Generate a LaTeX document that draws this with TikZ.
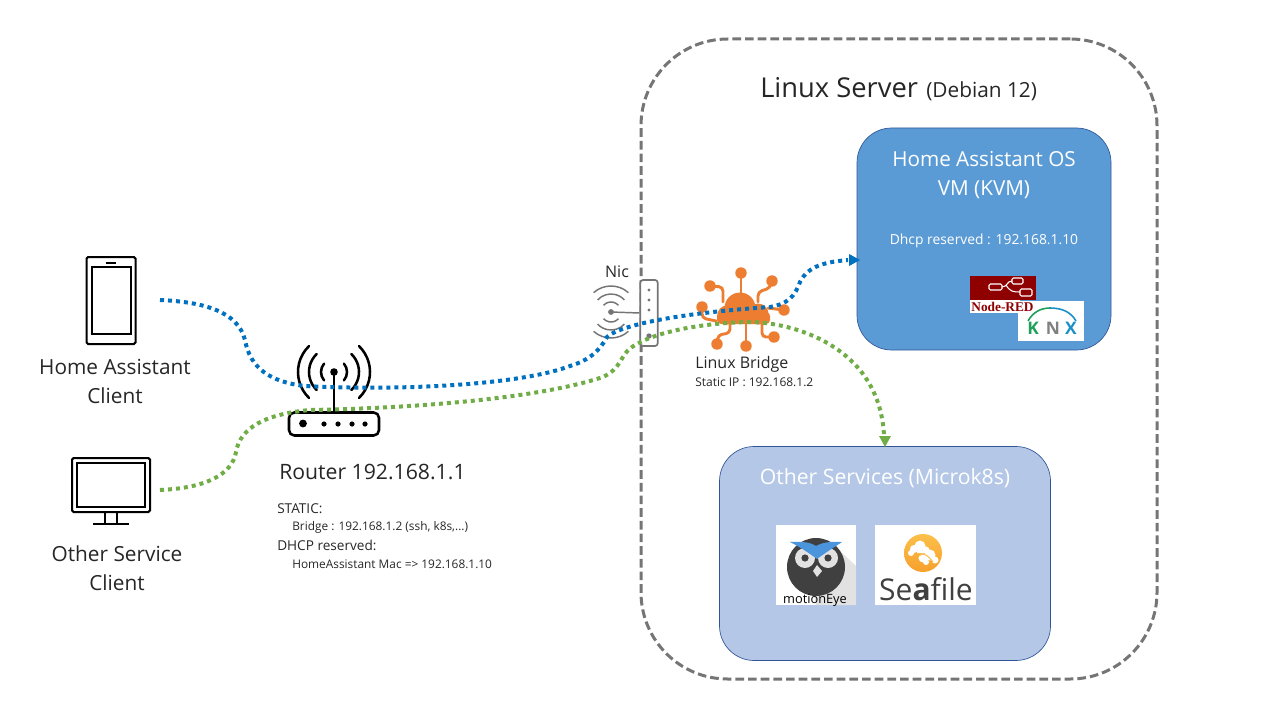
\documentclass[tikz,border=0pt]{standalone}
\usepackage{fontspec}
\setmainfont{Open Sans}
\newfontfamily\nrfont{Liberation Serif}
\usetikzlibrary{arrows.meta,calc}
\definecolor{hablue}{HTML}{5B9BD5}
\definecolor{svcblue}{HTML}{B4C7E7}
\definecolor{edgeblue}{HTML}{2F5597}
\definecolor{dotblue}{HTML}{0070C0}
\definecolor{dotgreen}{HTML}{70AD47}
\definecolor{cloud}{HTML}{ED7D31}
\definecolor{greyline}{HTML}{757575}
\definecolor{txt}{HTML}{262626}
\definecolor{nred}{HTML}{8F0000}
\definecolor{owl}{HTML}{404040}
\definecolor{owlpale}{HTML}{E2E2E2}
\definecolor{wing}{HTML}{4A95DC}
\definecolor{knxgreen}{HTML}{1FA05B}
\definecolor{knxblue}{HTML}{1C8FC7}
\definecolor{seatop}{HTML}{FBC04A}
\definecolor{seabot}{HTML}{F7A02C}
\tikzset{
 lab/.style={font=\fontsize{#1}{#1}\selectfont,text=txt,inner sep=0pt,align=center},
 labl/.style={font=\fontsize{#1}{#1}\selectfont,text=txt,inner sep=0pt,align=left,anchor=west},
 wlab/.style={font=\fontsize{#1}{#1}\selectfont,text=white,inner sep=0pt,align=center},
 dotted line/.style={line width=3pt,dash pattern=on 3pt off 3pt},
 icon/.style={line width=1.5pt,draw=black,fill=white,rounded corners=1.2pt},
 rays/.style={line width=1.9pt,draw=black,line cap=round},
 nicline/.style={line width=1.1pt,draw=greyline},
 orangearm/.style={line width=2.2pt,draw=cloud,line cap=round,rounded corners=3pt},
 odot/.style={circle,fill=cloud,inner sep=0pt,minimum size=8.6pt},
 whitebox/.style={fill=white,draw=none,inner sep=0pt},
 flowbox/.style={draw=white,line width=0.8pt,rounded corners=1pt},
 flowline/.style={draw=white,line width=0.8pt},
 knxletter/.style={font=\bfseries\fontsize{13}{13}\selectfont,inner sep=0pt},
}
\begin{document}
\begin{tikzpicture}[x=0.75pt,y=-0.75pt]
\useasboundingbox (0,0) rectangle (1280,720);
% server
\node[draw=greyline,line width=2.25pt,dash pattern=on 6.5pt off 3pt,rounded corners=65pt,minimum width=387pt,minimum height=480pt,inner sep=0pt] (server) at (899,359) {};
\node[lab=20.5,anchor=west] (servert) at (760,88) {Linux Server};
\node[lab=15.6,anchor=west] (serverd) at (926,91.5) {(Debian 12)};
% HA
\node[draw=edgeblue,line width=0.5pt,fill=hablue,rounded corners=26pt,minimum width=190.5pt,minimum height=166.5pt,inner sep=0pt] (ha) at (984,239) {};
\node[wlab=15.5,font=\fontsize{15.5}{21.75}\selectfont] (hat) at (984,175) {Home Assistant OS\\VM (KVM)};
\node[wlab=10.4] (hadhcp) at (984,241) {Dhcp reserved : 192.168.1.10};
% KNX
\node[whitebox,minimum width=49.5pt,minimum height=30pt] (knx) at (1051,321) {};
\draw[knxgreen,line width=1.2pt] (1028,321) .. controls (1033,312) and (1041,308) .. (1050,308);
\draw[knxblue,line width=1.2pt] (1050,308) .. controls (1062,308) and (1071,312) .. (1076,321);
\node[knxletter,text=knxgreen] (knxk) at (1033,328) {K};
\node[knxletter,text=gray] (knxn) at (1053,328) {N};
\node[knxletter,text=knxblue] (knxx) at (1071,328) {X};
% Node-RED logo
\fill[white] (970,299) rectangle (1020,313);
\fill[nred] (970,276) rectangle (1036,300);
\draw[flowbox] (989,284) rectangle (1002,290);
\draw[flowbox] (1012,278) rectangle (1023,284);
\draw[flowbox] (1020,289) rectangle (1032,296);
\draw[flowline] (1002,287) .. controls (1007,287) and (1007,281) .. (1012,281);
\draw[flowline] (1006,285) .. controls (1010,292) and (1014,292) .. (1020,292);
\node[font=\nrfont\bfseries\fontsize{10}{10}\selectfont,text=nred,inner sep=0pt] (nrt) at (1002.5,306.5) {Node-RED};
% other services
\node[draw=edgeblue,line width=0.5pt,fill=svcblue,rounded corners=26pt,minimum width=248.25pt,minimum height=160.5pt,inner sep=0pt] (svc) at (885,553.5) {};
\node[wlab=15.9,anchor=center] (svct) at (885,478) {Other Services (Microk8s)};
% motionEye
\node[whitebox,minimum width=60pt,minimum height=60pt] (me) at (816,565) {};
\fill[owlpale] (805,552) -- (828,540) -- (856,566) -- (856,605) -- (816,605) -- cycle;
\fill[owl] (816,567) circle[radius=29];
\fill[owlpale] (805,558) circle[radius=10] (828,558) circle[radius=10];
\fill[owl] (805,558) circle[radius=3.6] (828,558) circle[radius=3.6];
\fill[wing] (790,542) .. controls (803,541) and (812,543) .. (816,546) .. controls (821,543) and (830,541) .. (842,542) .. controls (833,548) and (825,553) .. (817,559) .. controls (809,553) and (800,547) .. (790,542) -- cycle;
\fill[owlpale] (817,565) -- (822,571) -- (817,577) -- (813,571) -- cycle;
\node[font=\fontsize{9.6}{9.6}\selectfont,text=black,inner sep=0pt] (met) at (815,600) {motionEye};
% Seafile
\node[whitebox,minimum width=75.75pt,minimum height=60pt] (sf) at (925.5,565) {};
\shade[top color=seatop,bottom color=seabot] (923,553) circle[radius=19];
\fill[white] (914,549) circle[radius=4] (920,546) circle[radius=5.5] (926,550) circle[radius=3.5] (911,553) circle[radius=3] (917,553) rectangle (925,551);
\fill[white] (923,558) circle[radius=4.5] (930,555) circle[radius=5.5] (935,560) circle[radius=3.5] (926,562) circle[radius=3];
\draw[seatop,line width=0.8pt] (919,556) .. controls (924,551) and (929,557) .. (933,562);
\node[font=\fontsize{22.5}{22.5}\selectfont,text=owl,inner sep=0pt] (sft) at (926,589) {Se\textbf{a}file};
% phone
\node[icon,minimum width=36.75pt,minimum height=65.25pt,inner sep=0pt] (phone) at (111,300.5) {};
\node[draw=black,line width=1.5pt,fill=white,minimum width=29.25pt,minimum height=50pt,inner sep=0pt] (phscr) at (111,300.5) {};
\draw[line width=1.5pt] (106,263) -- (116,263);
\node[lab=15.6,font=\fontsize{15.6}{21.75}\selectfont] (phonet) at (115,381) {Home Assistant\\Client};
% monitor
\node[icon,minimum width=58.5pt,minimum height=40.5pt,inner sep=0pt] (mon) at (111,485) {};
\node[draw=black,line width=1.5pt,fill=white,minimum width=51pt,minimum height=33pt,inner sep=0pt] (monscr) at (111,485) {};
\draw[line width=1.5pt] (105,512) -- (105,523) (117,512) -- (117,523) (93,524) -- (129,524);
\node[lab=15.6,font=\fontsize{15.6}{21.75}\selectfont] (mont) at (117,568) {Other Service\\Client};
% router
\node[draw=black,line width=1.9pt,fill=white,rounded corners=4pt,minimum width=67.5pt,minimum height=17.25pt,inner sep=0pt] (router) at (334,424) {};
\draw[line width=1.9pt] (334,372) -- (334,412);
\fill (334,372) circle[radius=3.8];
\fill (303,423.5) circle[radius=3.9];
\foreach \px in {324,338,352,365}{\fill (\px,424) circle[radius=2.6];}
\begin{scope}[rays]
\foreach \rad/\ang in {13/40,25/46,36/46}{
 \draw (334,372)++(-\ang:\rad) arc[start angle=-\ang,end angle=\ang,radius=\rad];
 \draw (334,372)++(180-\ang:\rad) arc[start angle=180-\ang,end angle=180+\ang,radius=\rad];
}
\end{scope}
\node[labl=15.9] (routert) at (279,472) {Router 192.168.1.1};
\node[labl=10.2] (r1) at (277,509) {STATIC:};
\node[labl=8.9] (r2) at (292,527) {Bridge : 192.168.1.2 (ssh, k8s,...)};
\node[labl=10.2] (r3) at (277,545) {DHCP reserved:};
\node[labl=8.9] (r4) at (292,564) {HomeAssistant Mac => 192.168.1.10};
% nic
\node[lab=12] (nict) at (617,272) {Nic};
\node[draw=greyline,line width=1.3pt,fill=white,rounded corners=2pt,minimum width=13pt,minimum height=49.5pt,inner sep=0pt] (nic) at (649,313) {};
\foreach \py in {290,300,310}{\fill[greyline] (649,\py) circle[radius=1.7];}
\fill[greyline] (649,336) circle[radius=2.7];
\coordinate (wifi) at (611,312);
\fill[greyline] (wifi) circle[radius=2.9];
\draw[nicline] (wifi) -- (nic.west);
\foreach \rad/\ang in {10/48,18/48,26/42}{
 \draw[nicline] (wifi)++(90-\ang:\rad) arc[start angle=90-\ang,end angle=90+\ang,radius=\rad];
 \draw[nicline] (wifi)++(270-\ang:\rad) arc[start angle=270-\ang,end angle=270+\ang,radius=\rad];
}
% bridge
\begin{scope}[orangearm]
\draw (741,300) -- (741,273);
\draw (710,286) -- (723,287) -- (723,302);
\draw (772,281) -- (770,288) -- (758,292) -- (758,302);
\draw (702,307) -- (702,318) -- (716,321);
\draw (768,308) -- (784,310);
\draw (717,344) -- (718,335) -- (730,333) -- (730,322);
\draw (746,322) -- (746,346);
\draw (774,337) -- (762,337) -- (762,322);
\end{scope}
\node[odot] (b1) at (741,273) {};
\node[odot] (b2) at (710,286) {};
\node[odot] (b3) at (772,281) {};
\node[odot] (b4) at (702,307) {};
\node[odot] (b5) at (784,310) {};
\node[odot] (b6) at (717,344) {};
\node[odot] (b7) at (746,346) {};
\node[odot] (b8) at (774,337) {};
\fill[cloud] (740,308) circle[radius=15.5] (727,315) circle[radius=9.5] (758,314) circle[radius=10.5];
\fill[cloud,rounded corners=3pt] (717,312) rectangle (770,324);
\node[lab=12,anchor=west] (bt) at (695,364) {Linux Bridge};
\node[lab=9,anchor=west] (bip) at (695,382) {Static IP : 192.168.1.2};
% connectors
\coordinate (bstart) at (160,300);
\coordinate (gstart) at (160,490);
\draw[dotblue,dotted line] (bstart) .. controls (205,302) and (238,312) .. (245,340) .. controls (250,368) and (270,382) .. (305,386) .. controls (400,391) and (520,385) .. (570,366) .. controls (590,360) and (600,350) .. (607,337) .. controls (620,325) and (680,313) .. (770,307) .. controls (788,304) and (795,296) .. (800,282) .. controls (808,266) and (825,262) .. (848,260);
\fill[dotblue] (849,254) -- (860,260) -- (849,266) -- cycle;
\draw[dotgreen,dotted line] (gstart) .. controls (205,488) and (232,475) .. (236,452) .. controls (240,428) and (265,414) .. (310,410) .. controls (420,408) and (540,398) .. (603,377) .. controls (622,368) and (620,355) .. (632,347) .. controls (660,328) and (720,322) .. (753,322) .. controls (800,324) and (880,350) .. (884,436);
\fill[dotgreen] (879,436) -- (891,436) -- (885,447) -- cycle;
\end{tikzpicture}
\end{document}
